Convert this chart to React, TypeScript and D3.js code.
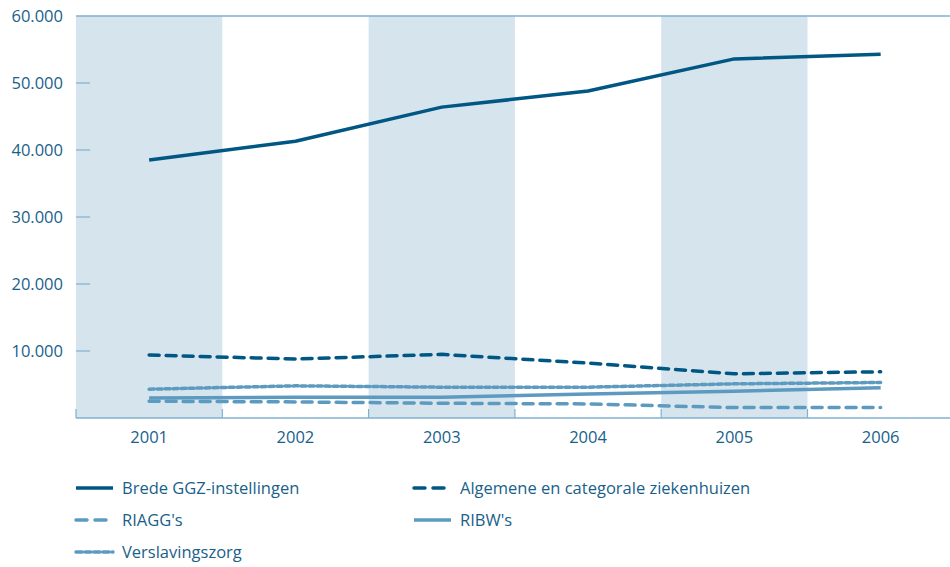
import * as d3 from 'd3';
import { type FC } from 'react';

const years = ['2001', '2002', '2003', '2004', '2005', '2006'];
const yTicks = [10000, 20000, 30000, 40000, 50000, 60000];

const bredeGgz = [38500, 41300, 46400, 48800, 53600, 54300];
const algemeen = [9400, 8800, 9500, 8200, 6600, 6900];
const riagg = [2500, 2400, 2200, 2100, 1550, 1550];
const ribw = [3000, 3100, 3100, 3600, 4000, 4500];
const verslaving = [4300, 4800, 4600, 4600, 5100, 5300];

const dark = '#005783';
const light = '#5d9ac0';
const band = '#d6e4ee';
const axisColor = '#80b1d0';
const textColor = '#195f8a';

type Series = { name: string; values: number[]; color: string; dash?: string };

const series: Series[] = [
  { name: 'Brede GGZ-instellingen', values: bredeGgz, color: dark },
  { name: 'Algemene en categorale ziekenhuizen', values: algemeen, color: dark, dash: '10 7' },
  { name: "RIAGG's", values: riagg, color: light, dash: '10 7' },
  { name: "RIBW's", values: ribw, color: light },
  { name: 'Verslavingszorg', values: verslaving, color: light, dash: '5 3' },
];

const width = 950;
const height = 567;
const marginLeft = 76;
const marginTop = 16;
const plotBottom = 418;
const font = "'Open Sans', sans-serif";
const fontSize = 16.5;

const App: FC = () => {
  // band step ~146px, running a little past the right edge like the original
  const x = d3.scaleBand<string>(years, [marginLeft, marginLeft + 6 * 146.3]).padding(0);
  const y = d3.scaleLinear([0, 60000], [plotBottom, marginTop]);
  const cx = (i: number) => (x(years[i]) ?? 0) + x.bandwidth() / 2;

  const line = d3.line<number>((_d, i) => cx(i), y);

  const legendRows = [
    [0, 1],
    [2, 3],
    [4],
  ];

  return (
    <svg
      width={width}
      height={height}
      viewBox={`0 0 ${width} ${height}`}
      style={{ position: 'absolute', left: 0, top: 0 }}
    >
      {years.map((yr, i) =>
        i % 2 === 0 ? (
          <rect
            key={yr}
            x={x(yr)}
            y={marginTop}
            width={x.bandwidth()}
            height={plotBottom - marginTop}
            fill={band}
          />
        ) : null,
      )}
      <line x1={marginLeft} x2={width} y1={marginTop} y2={marginTop} stroke={axisColor} strokeWidth={1.5} />
      <line x1={marginLeft} x2={width} y1={plotBottom} y2={plotBottom} stroke={axisColor} strokeWidth={1.5} />
      {yTicks.map((t) => (
        <g key={t}>
          {t < 60000 && (
            <line x1={marginLeft} x2={marginLeft + 14} y1={y(t)} y2={y(t)} stroke={axisColor} strokeWidth={1.2} />
          )}
          <text
            x={63}
            y={y(t)}
            dy="0.35em"
            textAnchor="end"
            fill={textColor}
            fontFamily={font}
            fontSize={fontSize}
          >
            {d3.format(',')(t).replace(/,/g, '.')}
          </text>
        </g>
      ))}
      {years.map((yr) => (
        <line
          key={yr}
          x1={x(yr)}
          x2={x(yr)}
          y1={plotBottom}
          y2={plotBottom - 9}
          stroke={axisColor}
          strokeWidth={1.2}
        />
      ))}
      {years.map((yr, i) => (
        <text
          key={yr}
          x={cx(i)}
          y={443}
          textAnchor="middle"
          fill={textColor}
          fontFamily={font}
          fontSize={fontSize}
        >
          {yr}
        </text>
      ))}
      {series.map((s) => (
        <path
          key={s.name}
          d={line(s.values) ?? undefined}
          fill="none"
          stroke={s.color}
          strokeWidth={3.5}
          strokeDasharray={s.dash}
          strokeLinecap={s.dash ? 'round' : 'butt'}
          strokeLinejoin="round"
        />
      ))}
      {legendRows.map((row, r) =>
        row.map((si, c) => {
          const s = series[si];
          const lx = c === 0 ? 76 : 414;
          const ly = 488 + r * 32;
          return (
            <g key={s.name}>
              <line
                x1={lx}
                x2={lx + 37}
                y1={ly}
                y2={ly}
                stroke={s.color}
                strokeWidth={3.5}
                strokeDasharray={s.dash === '10 7' ? '11 8' : s.dash === '5 3' ? '6 3' : undefined}
                strokeLinecap={s.dash ? 'round' : 'butt'}
              />
              <text
                x={lx + 46}
                y={ly}
                dy="0.35em"
                fill={textColor}
                fontFamily={font}
                fontSize={fontSize}
              >
                {s.name}
              </text>
            </g>
          );
        }),
      )}
    </svg>
  );
};

export default App;
